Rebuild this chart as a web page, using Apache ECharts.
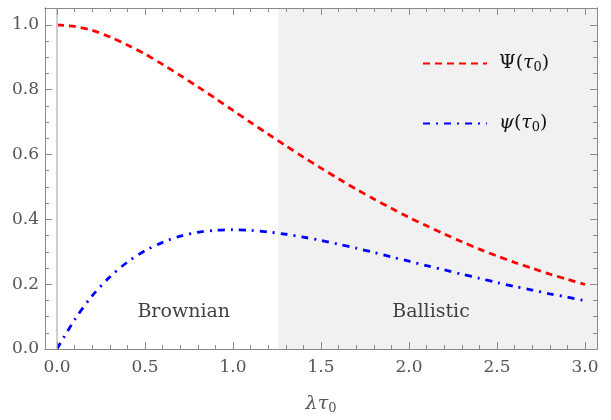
<!DOCTYPE html>
<html>
<head>
<meta charset="utf-8">
<script src="https://cdn.jsdelivr.net/npm/echarts@6/dist/echarts.min.js"></script>
<style>
  html, body { margin: 0; padding: 0; background: #fff; }
  #chart { width: 611px; height: 420px; }
</style>
</head>
<body>
<div id="chart"></div>
<script>
// lambda*tau0 samples
var xs = [0.0, 0.1, 0.2, 0.3, 0.4, 0.5, 0.6, 0.7, 0.8, 0.9, 1.0,
          1.1, 1.2, 1.3, 1.4, 1.5, 1.6, 1.7, 1.8, 1.9, 2.0,
          2.1, 2.2, 2.3, 2.4, 2.5, 2.6, 2.7, 2.8, 2.9, 3.0];
// Psi(tau0), red dashed
var bigPsi = [1.000, 0.995, 0.983, 0.963, 0.938, 0.910, 0.878, 0.844, 0.809, 0.773, 0.736,
              0.699, 0.663, 0.627, 0.592, 0.558, 0.525, 0.493, 0.463, 0.434, 0.406,
              0.380, 0.355, 0.331, 0.308, 0.287, 0.267, 0.249, 0.231, 0.215, 0.199];
// psi(tau0), blue dash-dot
var smallPsi = [0.000, 0.090, 0.164, 0.222, 0.268, 0.303, 0.329, 0.348, 0.360, 0.366, 0.368,
                0.366, 0.361, 0.354, 0.345, 0.335, 0.323, 0.311, 0.298, 0.284, 0.271,
                0.257, 0.244, 0.231, 0.218, 0.205, 0.193, 0.182, 0.170, 0.160, 0.149];
var xMajor = [0, 0.5, 1.0, 1.5, 2.0, 2.5, 3.0];
var xMinor = [0.1, 0.2, 0.3, 0.4, 0.6, 0.7, 0.8, 0.9, 1.1, 1.2, 1.3, 1.4,
              1.6, 1.7, 1.8, 1.9, 2.1, 2.2, 2.3, 2.4, 2.6, 2.7, 2.8, 2.9];
var yMajor = [0, 0.2, 0.4, 0.6, 0.8, 1.0];
var yMinor = [0.05, 0.1, 0.15, 0.25, 0.3, 0.35, 0.45, 0.5, 0.55,
              0.65, 0.7, 0.75, 0.85, 0.9, 0.95];
var regionNames = ['Brownian', 'Ballistic'];
var ballisticStart = 1.257;

var serif = 'DejaVu Serif';
var frameColor = '#8a8a8a';
var xMin = -0.068, xMax = 3.068, yMin = 0, yMax = 1.052;

function pairs(ys) {
    return xs.map(function (x, i) { return [x, ys[i]]; });
}

function xAx(pos, ticks, len, labels) {
    return {
        type: 'value', position: pos, min: xMin, max: xMax, offset: 0, z: 10,
        axisLine: { show: true, onZero: false, lineStyle: { color: frameColor, width: 1 } },
        axisTick: { show: true, inside: true, length: len, customValues: ticks,
                    lineStyle: { color: frameColor, width: 1 } },
        axisLabel: labels ? {
            show: true, customValues: ticks, margin: 10,
            color: '#555', fontFamily: serif, fontSize: 17,
            formatter: function (v) { return v.toFixed(1); }
        } : { show: false },
        splitLine: { show: false }
    };
}

function yAx(pos, ticks, len, labels) {
    return {
        type: 'value', position: pos, min: yMin, max: yMax, offset: 0, z: 10,
        axisLine: { show: true, onZero: false, lineStyle: { color: frameColor, width: 1 } },
        axisTick: { show: true, inside: true, length: len, customValues: ticks,
                    lineStyle: { color: frameColor, width: 1 } },
        axisLabel: labels ? {
            show: true, customValues: ticks, margin: 6,
            color: '#555', fontFamily: serif, fontSize: 17,
            formatter: function (v) { return v.toFixed(1); }
        } : { show: false },
        splitLine: { show: false }
    };
}

var xBottom = xAx('bottom', xMajor, 7, true);
xBottom.name = '{i|λτ}{s|0}';
xBottom.nameLocation = 'middle';
xBottom.nameGap = 45;
xBottom.nameTextStyle = {
    rich: {
        i: { fontFamily: serif, fontStyle: 'italic', fontSize: 19, color: '#555' },
        s: { fontFamily: serif, fontSize: 13, color: '#555', padding: [8, 0, 0, 0] }
    }
};

var legendRich = {
    u: { fontFamily: serif, fontSize: 19, color: '#111' },
    i: { fontFamily: serif, fontSize: 19, fontStyle: 'italic', color: '#111' },
    s: { fontFamily: serif, fontSize: 13, color: '#111', padding: [8, 0, 0, 0] }
};

var myChart = echarts.init(document.getElementById('chart'), null, { renderer: 'canvas' });
myChart.setOption({
    backgroundColor: '#ffffff',
    animation: false,
    grid: { left: 45, right: 14, top: 8, bottom: 70 },
    legend: {
        orient: 'vertical',
        left: 417,
        top: 49,
        itemWidth: 64,
        itemHeight: 14,
        itemGap: 40,
        data: ['Psi', 'psi'],
        itemStyle: { opacity: 0, color: 'rgba(0,0,0,0)', borderWidth: 0 },
        textStyle: { padding: [0, 0, 0, 7], rich: legendRich },
        formatter: function (name) {
            return name === 'Psi' ? '{u|Ψ(}{i|τ}{s|0}{u|)}' : '{i|ψ}{u|(}{i|τ}{s|0}{u|)}';
        }
    },
    xAxis: [
        xBottom,
        xAx('bottom', xMinor, 4, false),
        xAx('top', xMajor, 7, false),
        xAx('top', xMinor, 4, false)
    ],
    yAxis: [
        yAx('left', yMajor, 7, true),
        yAx('left', yMinor, 4, false),
        yAx('right', yMajor, 7, false),
        yAx('right', yMinor, 4, false)
    ],
    series: [{
        // background: ballistic shading and x = 0 axis line
        type: 'line',
        z: 1,
        data: [],
        silent: true,
        markArea: {
            silent: true,
            itemStyle: { color: '#f1f1f1' },
            data: [[{ xAxis: ballisticStart }, { xAxis: xMax }]]
        },
        markLine: {
            silent: true,
            symbol: 'none',
            label: { show: false },
            lineStyle: { color: '#cfcfcf', width: 2, type: 'solid' },
            data: [{ xAxis: 0 }]
        }
    }, {
        name: 'Psi',
        type: 'line',
        z: 3,
        data: pairs(bigPsi),
        smooth: 0.3,
        showSymbol: false,
        symbol: 'none',
        color: '#ff0000',
        lineStyle: { color: '#ff0000', width: 2.8, type: [7, 5], cap: 'butt' }
    }, {
        name: 'psi',
        type: 'line',
        z: 3,
        data: pairs(smallPsi),
        smooth: 0.3,
        showSymbol: false,
        symbol: 'none',
        color: '#0000ff',
        lineStyle: { color: '#0000ff', width: 2.8, type: [7, 6, 2, 6], cap: 'butt' }
    }, {
        // region captions
        type: 'scatter',
        z: 4,
        silent: true,
        symbolSize: 0,
        data: [
            { value: [0.72, 0.114], name: regionNames[0] },
            { value: [2.125, 0.114], name: regionNames[1] }
        ],
        label: {
            show: true,
            position: 'inside',
            formatter: function (p) { return p.name; },
            fontFamily: serif,
            fontSize: 19,
            color: '#111'
        }
    }]
});
</script>
</body>
</html>
